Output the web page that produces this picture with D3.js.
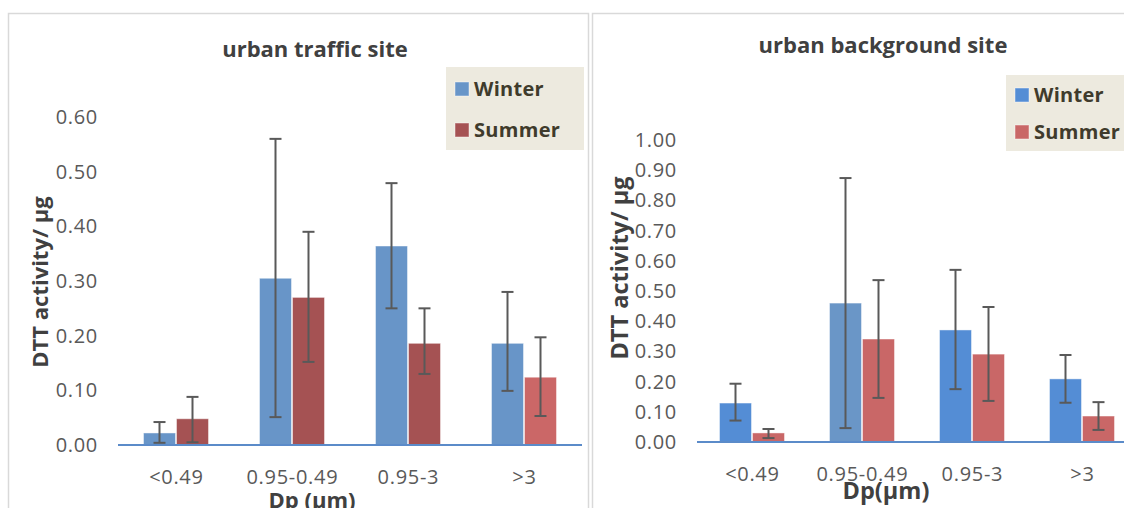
<!DOCTYPE html>
<html>
<head>
<meta charset="utf-8">
<script src="https://cdn.jsdelivr.net/npm/d3@7"></script>
<style>
  body { margin: 0; background: #fff; }
  text { font-family: "Open Sans", sans-serif; }
</style>
</head>
<body>
<script>
// size classes (Dp)
var categories = ["<0.49", "0.95-0.49", "0.95-3", ">3"];
var seasons = ["Winter", "Summer"];

// urban traffic site
var trafficWinter = [0.022, 0.305, 0.364, 0.186];
var trafficWinterLow = [0.004, 0.051, 0.250, 0.099];
var trafficWinterHigh = [0.042, 0.560, 0.479, 0.280];
var trafficSummer = [0.048, 0.270, 0.186, 0.124];
var trafficSummerLow = [0.005, 0.152, 0.130, 0.053];
var trafficSummerHigh = [0.088, 0.390, 0.250, 0.197];
var trafficTicks = [0, 0.1, 0.2, 0.3, 0.4, 0.5, 0.6];

// urban background site
var backWinter = [0.129, 0.460, 0.371, 0.209];
var backWinterLow = [0.071, 0.046, 0.175, 0.130];
var backWinterHigh = [0.193, 0.874, 0.570, 0.288];
var backSummer = [0.030, 0.341, 0.291, 0.086];
var backSummerLow = [0.013, 0.146, 0.136, 0.040];
var backSummerHigh = [0.043, 0.536, 0.447, 0.132];
var backTicks = [0, 0.1, 0.2, 0.3, 0.4, 0.5, 0.6, 0.7, 0.8, 0.9, 1.0];

var width = 1124;
var height = 508;

var svg = d3.select("body")
            .append("svg")
            .attr("width", width)
            .attr("height", height);

// panel frames
svg.append("rect")
   .attr("x", 8.5).attr("y", 13.5)
   .attr("width", 580).attr("height", 520)
   .attr("fill", "#fff").attr("stroke", "#d9d9d9").attr("stroke-width", 1.5);
svg.append("rect")
   .attr("x", 592.5).attr("y", 13.5)
   .attr("width", 560).attr("height", 520)
   .attr("fill", "#fff").attr("stroke", "#d9d9d9").attr("stroke-width", 1.5);

function drawPanel(p) {
    var g = svg.append("g");

    var x = d3.scaleBand()
              .domain(categories)
              .range([p.left, p.right]);

    var y = d3.scaleLinear()
              .domain([0, p.ticks[p.ticks.length - 1]])
              .range([p.bottom, p.top]);

    var barW = 32;

    var rows = categories.map(function(c, i) {
        return [
            {cat: c, s: 0, v: p.winter[i], lo: p.winterLow[i], hi: p.winterHigh[i], fill: p.winterFill[i]},
            {cat: c, s: 1, v: p.summer[i], lo: p.summerLow[i], hi: p.summerHigh[i], fill: p.summerFill[i]}
        ];
    });
    var bars = [].concat.apply([], rows);

    function bx(d) {
        return x(d.cat) + x.bandwidth() / 2 - barW - 0.5 + d.s * (barW + 1);
    }

    // y axis labels
    var yAxis = d3.axisLeft(y)
                  .tickValues(p.ticks)
                  .tickFormat(d3.format(".2f"))
                  .tickSize(0)
                  .tickPadding(0);
    var ya = g.append("g")
              .attr("transform", "translate(" + p.tickX + ",0)")
              .call(yAxis);
    ya.select(".domain").remove();
    ya.selectAll("text")
      .attr("fill", "#595959")
      .style("font-size", "20px")
      .style("letter-spacing", "0.7px")
      .style("font-family", "'Open Sans', sans-serif");

    g.selectAll("rect.bar")
     .data(bars)
     .enter()
     .append("rect")
     .attr("class", "bar")
     .attr("x", bx)
     .attr("y", function(d) { return y(d.v); })
     .attr("width", barW)
     .attr("height", function(d) { return y(0) - y(d.v); })
     .attr("fill", function(d) { return d.fill; })
     .attr("stroke", "#ffffff")
     .attr("stroke-opacity", 0.45)
     .attr("stroke-width", 1);

    // x axis line
    g.append("line")
     .attr("x1", p.left).attr("x2", p.right)
     .attr("y1", y(0)).attr("y2", y(0))
     .attr("stroke", "#5b8bc9")
     .attr("stroke-width", 2);

    // error bars
    var err = g.selectAll("g.err")
               .data(bars)
               .enter()
               .append("g")
               .attr("class", "err")
               .attr("stroke", "#595959")
               .attr("stroke-width", 2);
    err.append("line")
       .attr("x1", function(d) { return bx(d) + barW / 2; })
       .attr("x2", function(d) { return bx(d) + barW / 2; })
       .attr("y1", function(d) { return y(d.lo); })
       .attr("y2", function(d) { return y(d.hi); });
    err.append("line")
       .attr("x1", function(d) { return bx(d) + barW / 2 - 6; })
       .attr("x2", function(d) { return bx(d) + barW / 2 + 6; })
       .attr("y1", function(d) { return y(d.lo); })
       .attr("y2", function(d) { return y(d.lo); });
    err.append("line")
       .attr("x1", function(d) { return bx(d) + barW / 2 - 6; })
       .attr("x2", function(d) { return bx(d) + barW / 2 + 6; })
       .attr("y1", function(d) { return y(d.hi); })
       .attr("y2", function(d) { return y(d.hi); });

    // category labels
    g.selectAll("text.cat")
     .data(categories)
     .enter()
     .append("text")
     .attr("class", "cat")
     .text(function(d) { return d; })
     .attr("x", function(d) { return x(d) + x.bandwidth() / 2 + 0.4; })
     .attr("y", p.catY)
     .attr("text-anchor", "middle")
     .attr("fill", "#595959")
     .style("font-size", "20px")
     .style("letter-spacing", "0.7px");

    // titles
    g.append("text")
     .text(p.title)
     .attr("x", p.titleX).attr("y", p.titleY)
     .attr("text-anchor", "middle")
     .attr("fill", "#404040")
     .style("font-size", "22px")
     .style("font-weight", "bold");

    g.append("text")
     .text(p.xTitle)
     .attr("x", p.xTitleX).attr("y", p.xTitleY)
     .attr("text-anchor", "middle")
     .attr("fill", "#404040")
     .style("font-size", p.axisFont)
     .style("font-weight", "bold");

    g.append("text")
     .text("DTT activity/ µg")
     .attr("transform", "translate(" + p.yTitleX + "," + p.yTitleY + ") rotate(-90)")
     .attr("text-anchor", "middle")
     .attr("fill", "#404040")
     .style("font-size", p.axisFont)
     .style("font-weight", "bold");

    // legend
    var lg = g.append("g")
              .attr("transform", "translate(" + p.legX + "," + p.legY + ")");
    lg.append("rect")
      .attr("x", 0).attr("y", 0)
      .attr("width", p.legW).attr("height", p.legH)
      .attr("fill", "#edeadf");
    lg.selectAll("rect.sw")
      .data(seasons)
      .enter()
      .append("rect")
      .attr("class", "sw")
      .attr("x", 9)
      .attr("y", function(d, i) { return p.legRow0 - 14 + i * p.legStep; })
      .attr("width", 14).attr("height", 14)
      .attr("fill", function(d, i) { return i === 0 ? p.legColors[0] : p.legColors[1]; })
      .attr("stroke", "#ffffff").attr("stroke-opacity", 0.45);
    lg.selectAll("text.lt")
      .data(seasons)
      .enter()
      .append("text")
      .attr("class", "lt")
      .text(function(d) { return d; })
      .attr("x", 28)
      .attr("y", function(d, i) { return p.legRow0 + i * p.legStep; })
      .attr("fill", "#3f3b2c")
      .style("font-size", "20px")
      .style("letter-spacing", "0.3px")
      .style("font-weight", "bold");
}

drawPanel({
    title: "urban traffic site", titleX: 315, titleY: 57,
    winter: trafficWinter, winterLow: trafficWinterLow, winterHigh: trafficWinterHigh,
    summer: trafficSummer, summerLow: trafficSummerLow, summerHigh: trafficSummerHigh,
    winterFill: ["#6895c8", "#6895c8", "#6895c8", "#6895c8"],
    summerFill: ["#a55253", "#a55253", "#a55253", "#cb6767"],
    ticks: trafficTicks,
    left: 118, right: 582, top: 117, bottom: 445,
    tickX: 98, catY: 484,
    xTitle: "Dp (µm)", xTitleX: 312, xTitleY: 508, axisFont: "22px",
    yTitleX: 48, yTitleY: 282,
    legX: 446, legY: 67, legW: 138, legH: 83,
    legRow0: 29, legStep: 41,
    legColors: ["#6895c8", "#a55253"]
});

drawPanel({
    title: "urban background site", titleX: 883, titleY: 53,
    winter: backWinter, winterLow: backWinterLow, winterHigh: backWinterHigh,
    summer: backSummer, summerLow: backSummerLow, summerHigh: backSummerHigh,
    winterFill: ["#548dd5", "#6a96c7", "#548dd5", "#548dd5"],
    summerFill: ["#c96767", "#c96767", "#c96767", "#c96767"],
    ticks: backTicks,
    left: 697, right: 1137, top: 140, bottom: 442,
    tickX: 677, catY: 481,
    xTitle: "Dp(µm)", xTitleX: 886, xTitleY: 499, axisFont: "23.5px",
    yTitleX: 628, yTitleY: 268,
    legX: 1006, legY: 75, legW: 130, legH: 76,
    legRow0: 27, legStep: 37,
    legColors: ["#548dd5", "#c96767"]
});
</script>
</body>
</html>
